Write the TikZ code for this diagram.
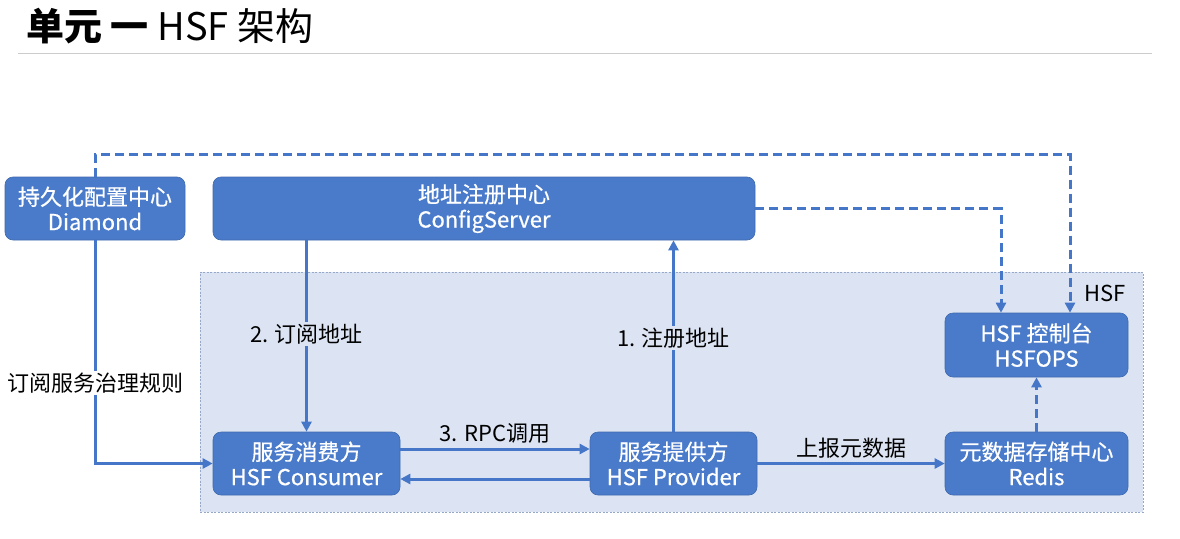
\documentclass[tikz,border=0pt]{standalone}
\usepackage{fontspec}
\setmainfont{Noto Sans CJK SC}
\newfontfamily\boxfont[FakeBold=0.6]{Noto Sans CJK SC}
\usetikzlibrary{arrows.meta}
\definecolor{boxblue}{RGB}{74,123,203}
\definecolor{lineblue}{RGB}{70,118,200}
\definecolor{hsfbg}{RGB}{220,228,243}
\definecolor{hsfborder}{RGB}{150,168,200}
\tikzset{
  box/.style={draw=boxblue!85!black, line width=0.6pt, fill=boxblue, rounded corners=8pt, text=white, align=center, font=\boxfont\fontsize{22}{25}\selectfont, inner sep=0pt},
  conn/.style={draw=lineblue, line width=3pt, -{Triangle[length=10pt,width=10pt]}},
  dconn/.style={conn, dash pattern=on 9pt off 5pt},
  lbl/.style={font=\fontsize{22}{26}\selectfont, text=black, inner sep=2pt},
}
\begin{document}
\begin{tikzpicture}[x=1pt,y=-1pt]
\useasboundingbox (0,0) rectangle (1180,538);
% title
\node[anchor=base west, inner sep=0pt, font=\fontsize{38}{42}\selectfont] (title) at (26,40) {\bfseries 单元 一\ \mdseries HSF 架构};
\coordinate (tl) at (18,53);
\coordinate (tr) at (1152,53);
\draw[black!20, line width=1pt] (tl) -- (tr);
% container
\node[draw=hsfborder, fill=hsfbg, dash pattern=on 2pt off 1.5pt, line width=0.8pt, minimum width=943pt, minimum height=240pt, inner sep=0pt] (hsf) at (671.5,392) {};
\node[lbl, anchor=center] (hsflbl) at (1105,293) {HSF};
% boxes
\node[box, minimum width=180pt, minimum height=63pt] (dia) at (95,208.5) {持久化配置中心\\Diamond};
\node[box, minimum width=542pt, minimum height=63pt] (cs) at (484,208.5) {地址注册中心\\ConfigServer};
\node[box, minimum width=183pt, minimum height=64pt] (ops) at (1036.5,345) {HSF 控制台\\HSFOPS};
\node[box, minimum width=187pt, minimum height=63pt] (cons) at (306.5,463.5) {服务消费方\\HSF Consumer};
\node[box, minimum width=167pt, minimum height=63pt] (prov) at (673.5,463.5) {服务提供方\\HSF Provider};
\node[box, minimum width=183pt, minimum height=63pt] (red) at (1036.5,463.5) {元数据存储中心\\Redis};
% dashed connectors
\draw[dconn] (dia.north) -- ++(0,-22) -| ([xshift=33.5pt]ops.north);
\draw[dconn] (cs.east) -| ([xshift=-35.5pt]ops.north);
\draw[dconn] (red.north) -- (ops.south);
% solid connectors
\draw[conn] (dia.south) |- (cons.west) node[pos=0.32, lbl, fill=white] {订阅服务治理规则};
\draw[conn] (cons.north |- cs.south) -- (cons.north) node[pos=0.49, lbl, fill=hsfbg] {2. 订阅地址};
\draw[conn] (prov.north) -- (prov.north |- cs.south) node[pos=0.49, lbl, fill=hsfbg] {1. 注册地址};
\path ([yshift=14.5pt]cons.east) coordinate (c1);
\path ([yshift=-15.5pt]prov.west) coordinate (p2);
\draw[conn] (c1) -- (c1 -| prov.west) node[midway, above=2pt, lbl] {3. RPC调用};
\draw[conn] (p2) -- (p2 -| cons.east);
\draw[conn] (prov.east) -- (red.west) node[midway, above=2pt, lbl] {上报元数据};
\end{tikzpicture}
\end{document}
